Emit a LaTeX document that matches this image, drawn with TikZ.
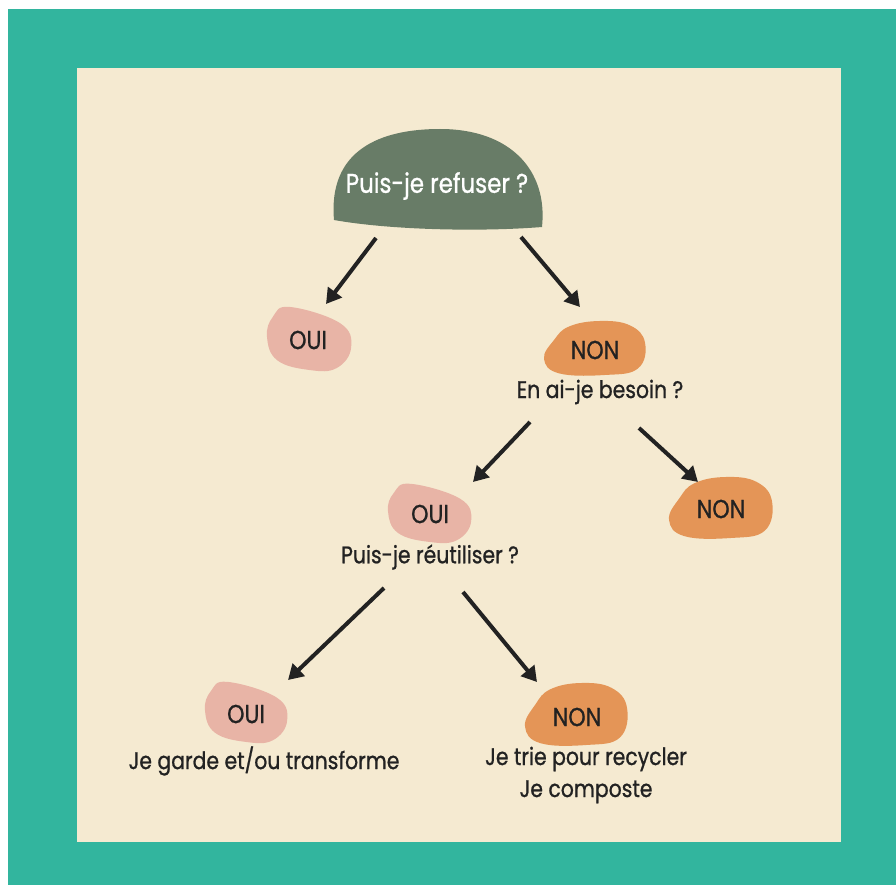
\documentclass[tikz,border=0pt]{standalone}
\usepackage{fontspec}
\setmainfont{Poppins}[FakeStretch=0.85, FakeBold=0.9]
\usetikzlibrary{arrows.meta}
\definecolor{tealbg}{HTML}{32B59E}
\definecolor{beige}{HTML}{F5EAD1}
\definecolor{sage}{HTML}{687C67}
\definecolor{pinkb}{HTML}{E8B4A6}
\definecolor{orangeb}{HTML}{E49557}
\definecolor{ink}{HTML}{222222}
\tikzset{
  arr/.style={draw=ink, line width=4pt, -{Triangle[length=15pt,width=17pt]}},
  lbl/.style={text=ink, font=\fontsize{26}{28}\selectfont, inner sep=0pt},
  captxt/.style={text=ink, font=\fontsize{24}{32}\selectfont, inner sep=0pt, align=center},
}
\newcommand{\ouiblob}[4]{%
  \begin{scope}[shift={(#1,#2)}, xscale=#3, yscale=#4]
    \fill[pinkb] plot[smooth cycle, tension=0.7] coordinates
      {(0.27,0.03) (0.86,0.28) (0.99,0.65) (0.82,0.97) (0.5,1) (0.12,0.85) (0,0.49) (0.07,0.18)};
  \end{scope}}
\newcommand{\nonblob}[4]{%
  \begin{scope}[shift={(#1,#2)}, xscale=#3, yscale=#4]
    \fill[orangeb] plot[smooth cycle, tension=0.7] coordinates
      {(0.25,0.1) (0.55,0) (0.85,0.08) (1,0.4) (0.93,0.88) (0.6,1) (0.15,0.97) (0,0.7) (0.1,0.35)};
  \end{scope}}
\begin{document}
\begin{tikzpicture}[x=1pt,y=-1pt]
\useasboundingbox (0,0) rectangle (896,885);
\fill[white] (0,0) rectangle (896,885);
\fill[tealbg] (8,9) rectangle (896,885);
\fill[beige] (77,68) rectangle (841,842);
% top dome
\fill[sage] (334,220) .. controls (328,150) and (380,129) .. (440,129)
  .. controls (510,129) and (548,170) .. (542,227)
  .. controls (480,232) and (390,230) .. (334,220);
\node[text=white, font=\fontsize{27}{30}\selectfont, inner sep=0pt] (q1) at (437,186) {Puis-je refuser ?};
% blobs
\ouiblob{267}{305}{85}{65}
\node[lbl] (o1) at (308,340) {OUI};
\nonblob{544}{321}{101}{54}
\node[lbl] (n1) at (595,350) {NON};
\node[captxt] (q2) at (600,392) {En ai-je besoin ?};
\ouiblob{388}{482}{84}{60}
\node[lbl] (o2) at (430,514) {OUI};
\node[captxt] (q3) at (430,557) {Puis-je réutiliser ?};
\nonblob{669}{477}{103}{61}
\node[lbl] (n2) at (721,509) {NON};
\ouiblob{205}{680}{83}{62}
\node[lbl] (o3) at (246,714) {OUI};
\node[captxt] (r1) at (264,761) {Je garde et/ou transforme};
\nonblob{525}{683}{102}{62}
\node[lbl] (n3) at (577,717) {NON};
\node[captxt] (r2) at (586,775) {Je trie pour recycler\\Je composte};
% arrow end points
\coordinate (a1s) at (376,238); \coordinate (a1e) at (326,304);
\coordinate (a2s) at (521,237); \coordinate (a2e) at (580,307);
\coordinate (a3s) at (530,422); \coordinate (a3e) at (473,482);
\coordinate (a4s) at (639,428); \coordinate (a4e) at (698,482);
\coordinate (a5s) at (384,588); \coordinate (a5e) at (288,680);
\coordinate (a6s) at (463,592); \coordinate (a6e) at (537,682);
\draw[arr] (a1s) -- (a1e);
\draw[arr] (a2s) -- (a2e);
\draw[arr] (a3s) -- (a3e);
\draw[arr] (a4s) -- (a4e);
\draw[arr] (a5s) -- (a5e);
\draw[arr] (a6s) -- (a6e);
\end{tikzpicture}
\end{document}
